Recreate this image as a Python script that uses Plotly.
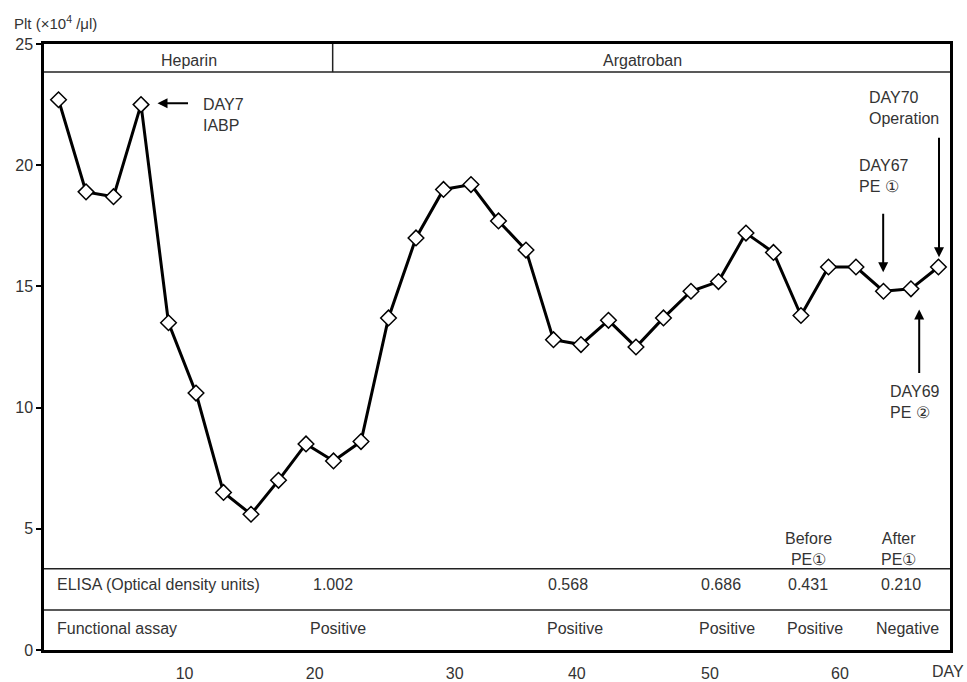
import plotly.graph_objects as go

# ---- data ----
sample_index = list(range(33))
platelets = [22.7, 18.9, 18.7, 22.5, 13.5, 10.6, 6.5, 5.6, 7.0, 8.5, 7.8, 8.6,
             13.7, 17.0, 19.0, 19.2, 17.7, 16.5, 12.8, 12.6, 13.6, 12.5, 13.7,
             14.8, 15.2, 17.2, 16.4, 13.8, 15.8, 15.8, 14.8, 14.9, 15.8]
day_tick_labels = ["10", "20", "30", "40", "50", "60"]
y_tick_values = [0, 5, 10, 15, 20, 25]
drug_labels = ["Heparin", "Argatroban"]
elisa_values = ["1.002", "0.568", "0.686", "0.431", "0.210"]
functional_results = ["Positive", "Positive", "Positive", "Positive", "Negative"]
pe_notes = ["Before<br>PE\u2460", "After<br>PE\u2460"]

# ---- layout positions (x in sample-index units, y in Plt units) ----
day_tick_pos = [4.585, 9.316, 14.41, 18.85, 23.69, 28.42]
drug_label_x = [4.73, 21.25]
elisa_x = [9.97, 18.52, 24.09, 27.26, 30.64]
func_x = [10.15, 18.78, 24.31, 27.51, 30.86]
pe_note_x = [27.29, 30.53]

FONT = "Liberation Sans, Arial, Helvetica, sans-serif"
TXT = "#333333"
FS = 16

fig = go.Figure()
fig.add_trace(go.Scatter(
    x=sample_index, y=platelets, mode="lines+markers",
    line=dict(color="black", width=3),
    marker=dict(symbol="diamond", size=12, color="white",
                line=dict(color="black", width=1.5)),
    showlegend=False, hoverinfo="y"))

ann = []
for t, x in zip(drug_labels, drug_label_x):
    ann.append(dict(x=x, y=24.34, text=t, showarrow=False))
ann.append(dict(x=-0.146, y=2.69, text="ELISA (Optical density units)",
                showarrow=False, xanchor="left"))
ann.append(dict(x=-0.146, y=0.87, text="Functional assay",
                showarrow=False, xanchor="left"))
for t, x in zip(elisa_values, elisa_x):
    ann.append(dict(x=x, y=2.69, text=t, showarrow=False))
for t, x in zip(functional_results, func_x):
    ann.append(dict(x=x, y=0.87, text=t, showarrow=False))
for t, x in zip(pe_notes, pe_note_x):
    ann.append(dict(x=x, y=4.15, text=t, showarrow=False))

# event labels
ann += [
    dict(x=5.17, y=22.09, text="DAY7<br>IABP", showarrow=False,
         xanchor="left", align="left"),
    dict(x=29.40, y=22.38, text="DAY70<br>Operation", showarrow=False,
         xanchor="left", align="left"),
    dict(x=29.04, y=19.57, text="DAY67<br>PE \u2460", showarrow=False,
         xanchor="left", align="left"),
    dict(x=30.17, y=10.25, text="DAY69<br>PE \u2461", showarrow=False,
         xanchor="left", align="left"),
]
# arrows
arrow_style = dict(showarrow=True, arrowhead=2, arrowsize=1, arrowwidth=2,
                   arrowcolor="black", text="")
ann += [
    dict(x=3.60, y=22.56, ax=32, ay=0, **arrow_style),
    dict(x=29.99, y=15.58, ax=0, ay=-60, **arrow_style),
    dict(x=32.02, y=16.2, ax=0, ay=-121, **arrow_style),
    dict(x=31.30, y=14.05, ax=0, ay=65, **arrow_style),
]
for a in ann:
    a.setdefault("xref", "x")
    a.setdefault("yref", "y")
    a["font"] = dict(family=FONT, size=FS, color=TXT)

# axis title & DAY label (paper coords)
ann.append(dict(xref="paper", yref="paper", x=-0.035, y=1.0, yshift=22,
                xanchor="left", yanchor="middle", showarrow=False,
                text="Plt (\u00d710<sup>4</sup> /\u03bcl)",
                font=dict(family=FONT, size=15, color=TXT)))
ann.append(dict(xref="paper", yref="paper", x=0.998, y=0, yshift=-21,
                xanchor="center", yanchor="middle", showarrow=False,
                text="DAY", font=dict(family=FONT, size=FS, color=TXT)))

shapes = [
    dict(type="line", xref="paper", yref="y", x0=0, x1=1, y0=23.84, y1=23.84,
         line=dict(color="#222222", width=1.5)),
    dict(type="line", xref="x", yref="y", x0=9.97, x1=9.97, y0=23.84, y1=25,
         line=dict(color="#222222", width=1.5)),
    dict(type="line", xref="paper", yref="y", x0=0, x1=1, y0=3.35, y1=3.35,
         line=dict(color="#222222", width=1.5)),
    dict(type="line", xref="paper", yref="y", x0=0, x1=1, y0=1.65, y1=1.65,
         line=dict(color="#222222", width=1.5)),
]

fig.update_layout(
    width=967, height=682,
    margin=dict(l=44, r=17, t=44, b=32),
    paper_bgcolor="white", plot_bgcolor="white",
    annotations=ann, shapes=shapes,
    xaxis=dict(range=[-0.528, 32.42], tickvals=day_tick_pos,
               ticktext=day_tick_labels, ticks="outside", ticklen=7,
               tickcolor="rgba(0,0,0,0)", showgrid=False, zeroline=False,
               automargin=False,
               showline=True, linecolor="black", linewidth=2.5, mirror=True,
               tickfont=dict(family=FONT, size=FS, color=TXT)),
    yaxis=dict(range=[0, 25], tickvals=y_tick_values, ticks="outside",
               ticklen=5, tickwidth=1.5, tickcolor="black",
               showgrid=False, zeroline=False, automargin=False,
               showline=True, linecolor="black", linewidth=2.5, mirror=True,
               tickfont=dict(family=FONT, size=FS, color=TXT)),
)

fig.write_html("out.html",
               config={"displayModeBar": False},
               post_script="document.body.style.margin='0';"
                           "document.body.style.padding='0';")
